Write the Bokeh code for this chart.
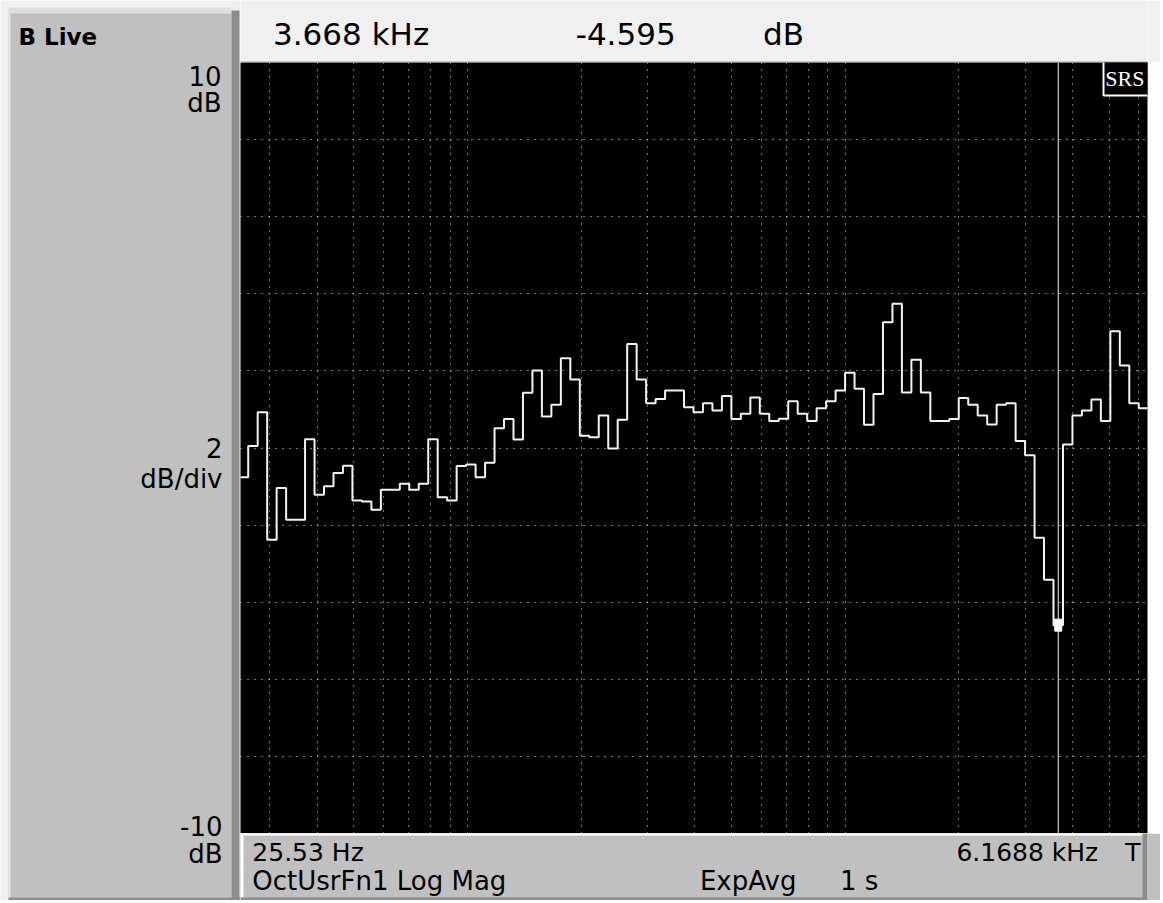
import numpy as np
from bokeh.plotting import figure
from bokeh.layouts import row, column
from bokeh.models import FixedTicker, Range1d, Span
from bokeh.core.properties import value
from bokeh.embed import file_html
from bokeh.resources import INLINE

# ---------------- data ----------------
# 1/12-octave band levels (dB), lowest band first (read from the screen)
band_db = [
    -0.76, 0.05, 0.93, -2.38, -1.04, -1.86, -1.86, 0.23, -1.21, -0.99,
    -0.65, -0.46, -1.36, -1.39, -1.60, -1.08, -1.08, -0.93, -1.08, -0.93,
    0.23, -1.28, -1.36, -0.47, -0.43, -0.76, -0.38, 0.51, 0.75, 0.22,
    1.43, 2.01, 0.82, 1.12, 2.33, 1.78, 0.32, 0.28, 0.84, -0.01,
    0.73, 2.70, 1.78, 1.16, 1.27, 1.49, 1.49, 1.06, 0.93, 1.16,
    0.97, 1.35, 0.75, 0.89, 1.31, 0.89, 0.70, 0.76, 1.21, 0.89,
    0.70, 1.03, 1.21, 1.49, 1.95, 1.54, 0.60, 1.40, 3.26, 3.74,
    1.44, 2.29, 1.44, 0.70, 0.70, 0.75, 1.30, 1.12, 0.84, 0.61,
    1.12, 1.16, 0.18, -0.19, -2.33, -3.42, -4.595, 0.09, 0.84, 0.97,
    1.26, 0.70, 3.03, 2.14, 1.16, 1.03,
]
first_band_index = -64          # band n has centre 1 kHz * 2**((n + 0.5) / 12)
bands_per_octave = 12
cursor_freq_hz = 3668.0
cursor_db = -4.595
start_freq_hz = 25.53
stop_freq_hz = 6168.8
top_db, bottom_db = 10, -10
x_grid_hz = [30, 40, 50, 60, 70, 80, 90, 100, 200, 300, 400, 500, 600, 700,
             800, 900, 1000, 2000, 3000, 4000, 5000, 6000]
y_grid_db = [-8, -6, -4, -2, 0, 2, 4, 6, 8]

header_texts = ["3.668 kHz", "-4.595", "dB"]
left_texts = ["10", "dB", "2", "dB/div", "-10", "dB"]
footer_top_texts = ["25.53 Hz"]
footer_bottom_texts = ["OctUsrFn1 Log Mag", "ExpAvg", "1 s"]
footer_right_texts = ["6.1688 kHz", "T"]

# ---------------- derived band geometry ----------------
n = np.arange(first_band_index, first_band_index + len(band_db))
centres = 1000.0 * 2.0 ** ((n + 0.5) / bands_per_octave)
lo_edge = centres * 2.0 ** (-0.5 / bands_per_octave)
hi_edge = centres * 2.0 ** (0.5 / bands_per_octave)
trace_x = np.column_stack([lo_edge, hi_edge]).ravel()
trace_y = np.repeat(np.array(band_db), 2)

FONT = value("DejaVu Sans")
GREY = "#c0c0c0"
LIGHT = "#f0f0f0"
DITHER = "#8c8c8c"

# x range: data span sits 3 px in from the left and 4 px in from the right
X_START, X_END = 25.07, 6321.0


def blank(w, h, bg):
    f = figure(width=w, height=h, x_range=Range1d(0, w), y_range=Range1d(h, 0),
               x_axis_location=None, y_axis_location=None, toolbar_location=None,
               output_backend="svg", min_border=0, background_fill_color=bg,
               border_fill_color=bg, outline_line_color=None)
    f.grid.visible = False
    return f


def box(f, l, r, t, b, c):
    f.quad(left=[l], right=[r], top=[t], bottom=[b], fill_color=c, line_color=None)


# ---------------- left panel (page x 0..240, y 0..900) ----------------
LW, LH = 240, 900
lp = blank(LW, LH, LIGHT)
box(lp, 8, 231, 7, 13, "#dedede")
box(lp, 8, 231, 13, 897, GREY)
box(lp, 8, 10, 13, 897, "#e4e4e4")
box(lp, 231, 239, 10, 900, DITHER)
box(lp, 8, 240, 897, 900, DITHER)
lp.text(x=[18], y=[36], text=["B Live"], text_font=FONT, text_font_size=value("23px"),
        text_font_style="bold", text_color="black", text_baseline="alphabetic",
        text_align="left")
lp.text(x=[221, 221, 222, 222, 222, 222], y=[75, 102, 447, 478, 825, 853],
        text=left_texts, text_font=FONT, text_font_size=value("26px"),
        text_color="black", text_baseline="alphabetic", text_align="right")

# ---------------- header (page x 240..1160, y 0..62) ----------------
RW = 920
hd = blank(RW, 62, LIGHT)
box(hd, 0, RW, 61, 62, "#a8a8a8")
hd.text(x=[33, 340, 530], y=[33, 33, 33], text=header_texts, text_font=FONT,
        text_font_size=value("31px"), text_color="black", text_baseline="alphabetic",
        text_align="left")

# ---------------- main plot (page y 62..833) ----------------
p = figure(width=RW, height=771, x_axis_type="log",
           x_range=Range1d(X_START, X_END), y_range=Range1d(bottom_db, top_db),
           x_axis_location=None, y_axis_location=None, toolbar_location=None,
           output_backend="svg", background_fill_color="black",
           border_fill_color="#ffffff", outline_line_color=None,
           min_border=0, min_border_right=13)
p.xgrid.ticker = FixedTicker(ticks=x_grid_hz)
p.ygrid.ticker = FixedTicker(ticks=y_grid_db)
p.grid.grid_line_color = "#e6e6e6"
p.grid.grid_line_dash = "1 6"
p.grid.grid_line_width = 1

p.add_layout(Span(location=cursor_freq_hz, dimension="height",
                  line_color="#f0f0f0", line_width=1))
p.line(trace_x, trace_y, line_color="#f4f4f4", line_width=2)
p.rect(x=[cursor_freq_hz], y=[cursor_db], width=7, height=12,
       width_units="screen", height_units="screen",
       fill_color="white", line_color="white")

# SRS logo in the top-right corner of the frame
p.rect(x=[X_END], y=[top_db], width=88, height=66, width_units="screen",
       height_units="screen", fill_color="black", line_color="white", line_width=2)
p.text(x=[X_END], y=[top_db], text=["SRS"], text_font=value("Liberation Serif"),
       text_font_size=value("22px"), text_color="white", text_align="right",
       text_baseline="top", x_offset=-3, y_offset=3)

# ---------------- footer (page x 240..1160, y 833..900) ----------------
FH = 67
ft = blank(RW, FH, GREY)
box(ft, 0, 915, 0, 2, "#ffffff")
box(ft, 0, 3, 0, 64, "#ffffff")
box(ft, 915, RW, 0, FH, DITHER)
box(ft, 0, RW, 64, FH, DITHER)
ft.text(x=[12], y=[19], text=footer_top_texts, text_font=FONT,
        text_font_size=value("25px"), text_color="black", text_baseline="alphabetic",
        text_align="left")
ft.text(x=[12, 466, 608], y=[47, 47, 47], text=footer_bottom_texts, text_font=FONT,
        text_font_size=value("26px"), text_color="black", text_baseline="alphabetic",
        text_align="left")
ft.text(x=[870, 913], y=[19, 19], text=footer_right_texts, text_font=FONT,
        text_font_size=value("25px"), text_color="black", text_baseline="alphabetic",
        text_align="right")

layout = row(lp, column(hd, p, ft, spacing=0), spacing=0)

with open("out.html", "w") as fh:
    fh.write(file_html(layout, INLINE))
